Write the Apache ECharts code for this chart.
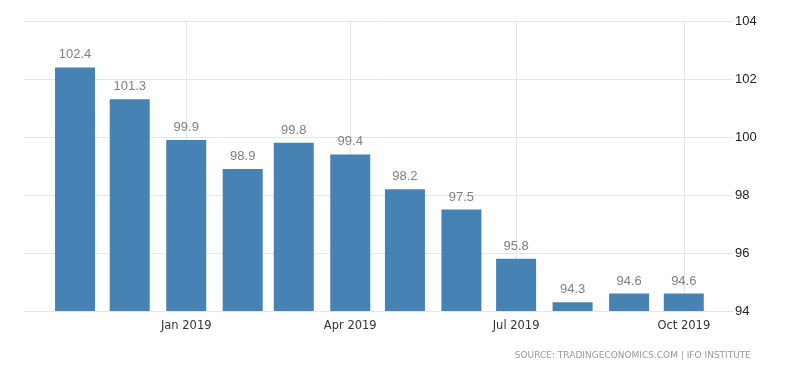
<!DOCTYPE html>
<html>
<head>
<meta charset="utf-8">
<script src="https://cdn.jsdelivr.net/npm/echarts@6/dist/echarts.min.js"></script>
<style>html,body{margin:0;padding:0;background:#fff;}#c{width:800px;height:373px;}</style>
</head>
<body>
<div id="c"></div>
<script>
var months = ['2018-11-01','2018-12-01','2019-01-01','2019-02-01','2019-03-01','2019-04-01','2019-05-01','2019-06-01','2019-07-01','2019-08-01','2019-09-01','2019-10-01'];
var values = [102.4, 101.3, 99.9, 98.9, 99.8, 99.4, 98.2, 97.5, 95.8, 94.3, 94.6, 94.6];
var yTicks = [94, 96, 98, 100, 102, 104];
var monthNames = ['Jan','Feb','Mar','Apr','May','Jun','Jul','Aug','Sep','Oct','Nov','Dec'];
var sourceText = 'SOURCE: TRADINGECONOMICS.COM | IFO INSTITUTE';

// visible x range of the plot
var gridLeft = 24, gridRight = 67, chartWidth = 800;
var barWidth = 40;
var axisLen = chartWidth - gridLeft - gridRight;
var visMin = new Date(2018, 9, 4).getTime();
var visMax = new Date(2019, 9, 28).getTime();
// ECharts widens a time axis to contain bars; pre-shrink so the final range is visMin..visMax
var range = visMax - visMin;
var buffer = range * barWidth / axisLen;
var xMin = visMin + buffer / 2;
var xMax = visMax - buffer / 2;

var chart = echarts.init(document.getElementById('c'));
var data = months.map(function (m, i) { return [m, values[i]]; });
chart.setOption({
  animation: false,
  grid: { left: gridLeft, right: gridRight, top: 21, bottom: 62 },
  xAxis: {
    type: 'time',
    min: xMin,
    max: xMax,
    splitNumber: 4,
    axisLine: { show: false },
    axisTick: { show: false },
    axisLabel: {
      color: '#333',
      fontFamily: 'DejaVu Sans',
      fontSize: 11.5,
      margin: 9,
      showMinLabel: false,
      showMaxLabel: false,
      formatter: function (v) {
        var d = new Date(v);
        return monthNames[d.getMonth()] + ' ' + d.getFullYear();
      }
    },
    splitLine: { show: true, showMinLine: false, showMaxLine: false, lineStyle: { color: '#e6e6e6', type: 'solid', width: 1 } }
  },
  yAxis: {
    type: 'value',
    position: 'right',
    min: yTicks[0],
    max: yTicks[yTicks.length - 1],
    interval: 2,
    axisLine: { show: false },
    axisTick: { show: false },
    axisLabel: { color: '#222', fontFamily: 'Liberation Sans', fontSize: 13, margin: 2 },
    splitLine: { show: true, lineStyle: { color: '#e6e6e6', type: 'solid', width: 1 } }
  },
  series: [{
    type: 'bar',
    data: data,
    barWidth: barWidth,
    itemStyle: { color: '#4682B4' },
    label: {
      show: true,
      position: 'top',
      distance: 6,
      color: '#808080',
      fontFamily: 'Liberation Sans',
      fontSize: 13,
      formatter: function (p) { return p.value[1].toFixed(1); }
    }
  }],
  graphic: [{
    type: 'text',
    right: 49,
    top: 351,
    style: { text: sourceText, fill: '#999', font: '9px "DejaVu Sans"' }
  }]
});
</script>
</body>
</html>
